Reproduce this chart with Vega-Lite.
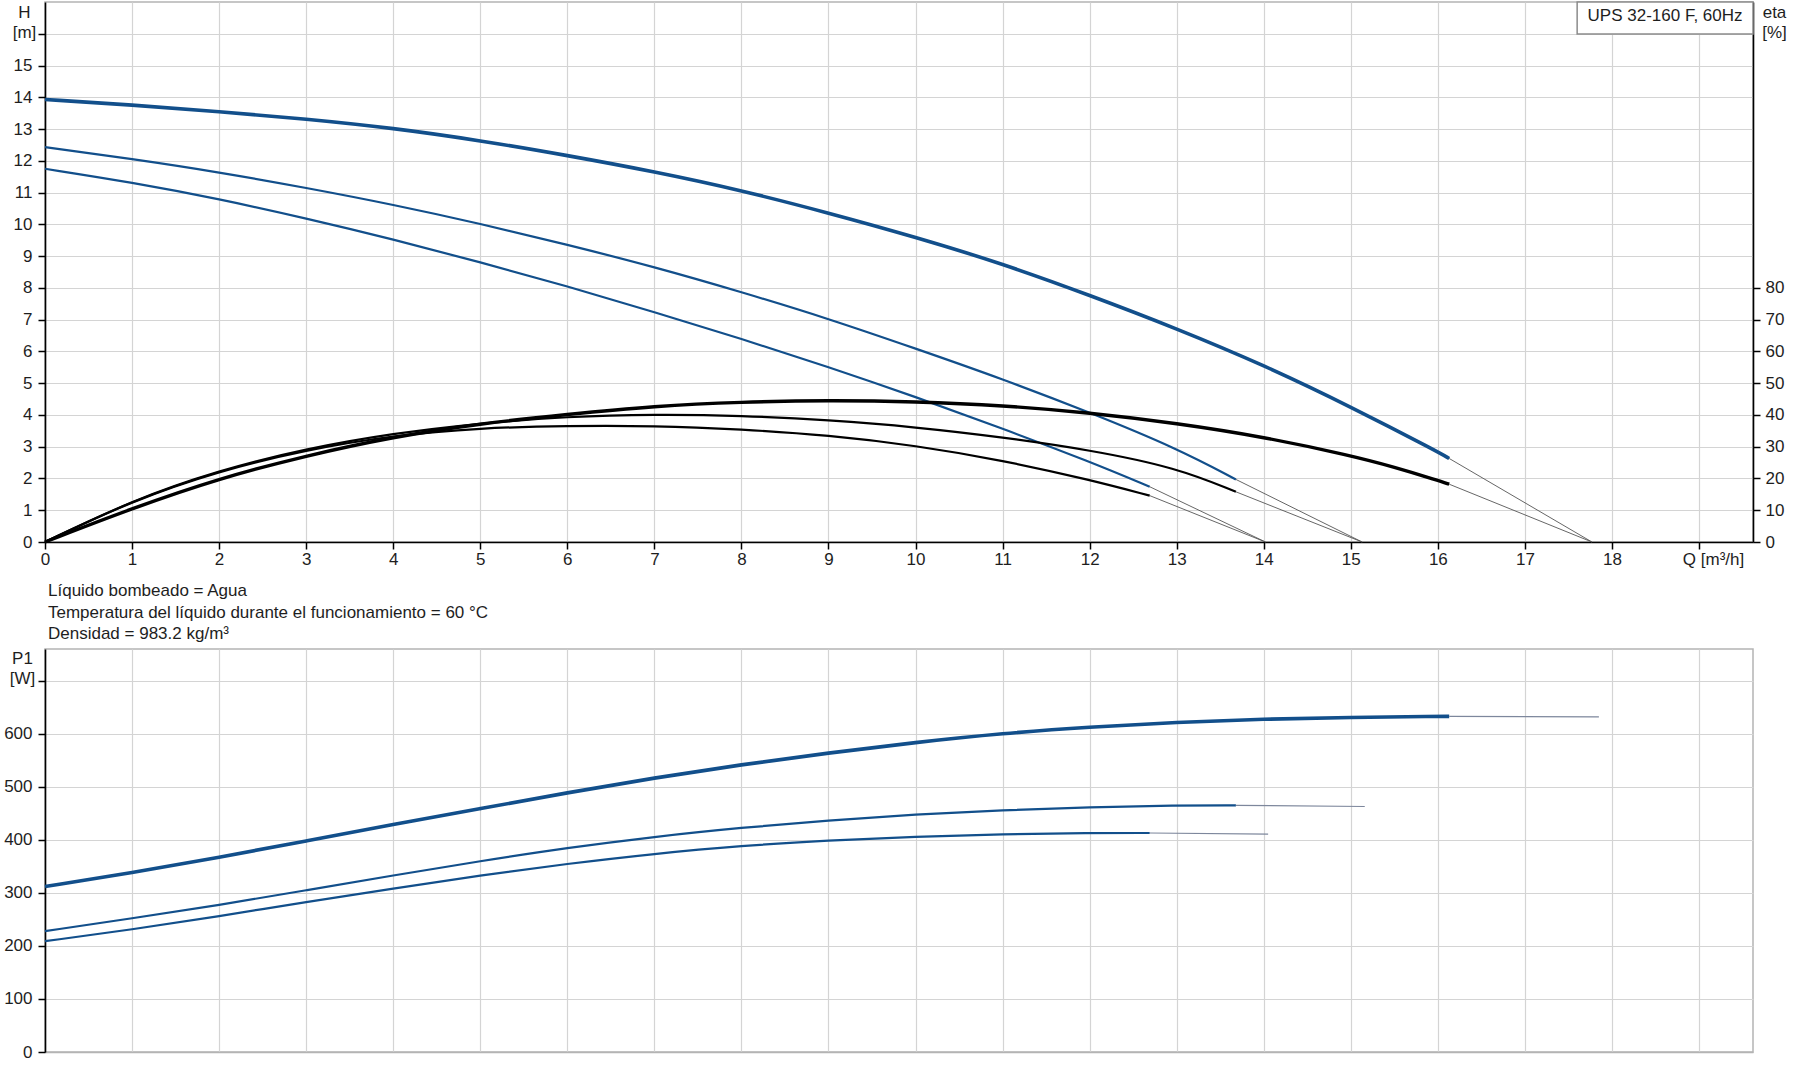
{
  "$schema": "https://vega.github.io/schema/vega-lite/v6.json",
  "background": "white",
  "padding": {"left": 2, "top": 0, "right": 5, "bottom": 5},
  "config": {
    "font": "Liberation Sans",
    "view": {"stroke": "#b4b4b4", "strokeWidth": 1.5},
    "axis": {
      "labelFont": "Liberation Sans",
      "labelFontSize": 17,
      "labelColor": "#1e1e1e",
      "titleFont": "Liberation Sans",
      "titleFontSize": 17,
      "titleFontWeight": "normal",
      "titleColor": "#1e1e1e",
      "gridColor": "#d4d4d4",
      "gridWidth": 1.2,
      "tickColor": "#000000",
      "tickSize": 7,
      "tickWidth": 1.5,
      "domainColor": "#000000",
      "domainWidth": 1.6,
      "labelOverlap": false,
      "labelSeparation": 0
    },
    "axisLeft": {"labelOverlap": false},
    "axisY": {"labelOverlap": false}
  },
  "datasets": {
    "head": [
      {"speed": "3", "Q": 0, "H": 13.93}, {"speed": "3", "Q": 1, "H": 13.76}, {"speed": "3", "Q": 2, "H": 13.55},
      {"speed": "3", "Q": 3, "H": 13.32}, {"speed": "3", "Q": 4, "H": 13.03}, {"speed": "3", "Q": 5, "H": 12.64},
      {"speed": "3", "Q": 6, "H": 12.17}, {"speed": "3", "Q": 7, "H": 11.66}, {"speed": "3", "Q": 8, "H": 11.07},
      {"speed": "3", "Q": 9, "H": 10.36}, {"speed": "3", "Q": 10, "H": 9.6}, {"speed": "3", "Q": 11, "H": 8.76},
      {"speed": "3", "Q": 12, "H": 7.77}, {"speed": "3", "Q": 13, "H": 6.72}, {"speed": "3", "Q": 14, "H": 5.57},
      {"speed": "3", "Q": 15, "H": 4.26}, {"speed": "3", "Q": 16, "H": 2.84}, {"speed": "3", "Q": 16.13, "H": 2.63},
      {"speed": "2", "Q": 0, "H": 12.43}, {"speed": "2", "Q": 1, "H": 12.06}, {"speed": "2", "Q": 2, "H": 11.64},
      {"speed": "2", "Q": 3, "H": 11.15}, {"speed": "2", "Q": 4, "H": 10.62}, {"speed": "2", "Q": 5, "H": 10.02},
      {"speed": "2", "Q": 6, "H": 9.36}, {"speed": "2", "Q": 7, "H": 8.66}, {"speed": "2", "Q": 8, "H": 7.87},
      {"speed": "2", "Q": 9, "H": 7.03}, {"speed": "2", "Q": 10, "H": 6.09}, {"speed": "2", "Q": 11, "H": 5.13},
      {"speed": "2", "Q": 12, "H": 4.08}, {"speed": "2", "Q": 13, "H": 2.95}, {"speed": "2", "Q": 13.68, "H": 1.97},
      {"speed": "1", "Q": 0, "H": 11.75}, {"speed": "1", "Q": 1, "H": 11.32}, {"speed": "1", "Q": 2, "H": 10.8},
      {"speed": "1", "Q": 3, "H": 10.19}, {"speed": "1", "Q": 4, "H": 9.53}, {"speed": "1", "Q": 5, "H": 8.81},
      {"speed": "1", "Q": 6, "H": 8.05}, {"speed": "1", "Q": 7, "H": 7.24}, {"speed": "1", "Q": 8, "H": 6.4},
      {"speed": "1", "Q": 9, "H": 5.51}, {"speed": "1", "Q": 10, "H": 4.57}, {"speed": "1", "Q": 11, "H": 3.57},
      {"speed": "1", "Q": 12, "H": 2.53}, {"speed": "1", "Q": 12.69, "H": 1.74}
    ],
    "headExt": [
      {"speed": "3", "Q": 16.13, "H": 2.63}, {"speed": "3", "Q": 17.77, "H": 0},
      {"speed": "2", "Q": 13.68, "H": 1.97}, {"speed": "2", "Q": 15.13, "H": 0},
      {"speed": "1", "Q": 12.69, "H": 1.74}, {"speed": "1", "Q": 14.02, "H": 0}
    ],
    "eff": [
      {"speed": "3", "Q": 0, "eta": 0}, {"speed": "3", "Q": 1, "eta": 10.6}, {"speed": "3", "Q": 2, "eta": 20},
      {"speed": "3", "Q": 3, "eta": 27.2}, {"speed": "3", "Q": 4, "eta": 33.1}, {"speed": "3", "Q": 5, "eta": 37.3},
      {"speed": "3", "Q": 6, "eta": 40.2}, {"speed": "3", "Q": 7, "eta": 42.8}, {"speed": "3", "Q": 8, "eta": 44.1},
      {"speed": "3", "Q": 9, "eta": 44.6}, {"speed": "3", "Q": 10, "eta": 44.2}, {"speed": "3", "Q": 11, "eta": 43},
      {"speed": "3", "Q": 12, "eta": 40.7}, {"speed": "3", "Q": 13, "eta": 37.4}, {"speed": "3", "Q": 14, "eta": 33.1},
      {"speed": "3", "Q": 15, "eta": 27.2}, {"speed": "3", "Q": 15.5, "eta": 23.6}, {"speed": "3", "Q": 16, "eta": 19.4},
      {"speed": "3", "Q": 16.13, "eta": 18.2},
      {"speed": "2", "Q": 0, "eta": 0}, {"speed": "2", "Q": 1, "eta": 13.1}, {"speed": "2", "Q": 2, "eta": 22.6},
      {"speed": "2", "Q": 3, "eta": 29.4}, {"speed": "2", "Q": 4, "eta": 34.2}, {"speed": "2", "Q": 5, "eta": 37.4},
      {"speed": "2", "Q": 6, "eta": 39.5}, {"speed": "2", "Q": 7, "eta": 40.2}, {"speed": "2", "Q": 8, "eta": 39.8},
      {"speed": "2", "Q": 9, "eta": 38.4}, {"speed": "2", "Q": 10, "eta": 36.2}, {"speed": "2", "Q": 11, "eta": 33},
      {"speed": "2", "Q": 12, "eta": 29}, {"speed": "2", "Q": 13, "eta": 23.4}, {"speed": "2", "Q": 13.68, "eta": 15.8},
      {"speed": "1", "Q": 0, "eta": 0}, {"speed": "1", "Q": 1, "eta": 13}, {"speed": "1", "Q": 2, "eta": 22.4},
      {"speed": "1", "Q": 3, "eta": 29}, {"speed": "1", "Q": 4, "eta": 33.6}, {"speed": "1", "Q": 5, "eta": 35.9},
      {"speed": "1", "Q": 6, "eta": 36.6}, {"speed": "1", "Q": 7, "eta": 36.6}, {"speed": "1", "Q": 8, "eta": 35.5},
      {"speed": "1", "Q": 9, "eta": 33.6}, {"speed": "1", "Q": 10, "eta": 30.4}, {"speed": "1", "Q": 11, "eta": 25.7},
      {"speed": "1", "Q": 12, "eta": 19.6}, {"speed": "1", "Q": 12.69, "eta": 14.6}
    ],
    "effExt": [
      {"speed": "3", "Q": 16.13, "eta": 18.2}, {"speed": "3", "Q": 17.77, "eta": 0},
      {"speed": "2", "Q": 13.68, "eta": 15.8}, {"speed": "2", "Q": 15.13, "eta": 0},
      {"speed": "1", "Q": 12.69, "eta": 14.6}, {"speed": "1", "Q": 14.02, "eta": 0}
    ],
    "power": [
      {"speed": "3", "Q": 0, "P1": 312}, {"speed": "3", "Q": 1, "P1": 338}, {"speed": "3", "Q": 2, "P1": 367},
      {"speed": "3", "Q": 3, "P1": 398}, {"speed": "3", "Q": 4, "P1": 429}, {"speed": "3", "Q": 5, "P1": 459},
      {"speed": "3", "Q": 6, "P1": 489}, {"speed": "3", "Q": 7, "P1": 517}, {"speed": "3", "Q": 8, "P1": 542},
      {"speed": "3", "Q": 9, "P1": 564}, {"speed": "3", "Q": 10, "P1": 584}, {"speed": "3", "Q": 11, "P1": 601},
      {"speed": "3", "Q": 12, "P1": 613}, {"speed": "3", "Q": 13, "P1": 622}, {"speed": "3", "Q": 14, "P1": 628},
      {"speed": "3", "Q": 15, "P1": 631}, {"speed": "3", "Q": 16, "P1": 633}, {"speed": "3", "Q": 16.13, "P1": 633},
      {"speed": "2", "Q": 0, "P1": 228}, {"speed": "2", "Q": 1, "P1": 252}, {"speed": "2", "Q": 2, "P1": 277},
      {"speed": "2", "Q": 3, "P1": 305}, {"speed": "2", "Q": 4, "P1": 333}, {"speed": "2", "Q": 5, "P1": 360},
      {"speed": "2", "Q": 6, "P1": 385}, {"speed": "2", "Q": 7, "P1": 406}, {"speed": "2", "Q": 8, "P1": 423},
      {"speed": "2", "Q": 9, "P1": 437}, {"speed": "2", "Q": 10, "P1": 448}, {"speed": "2", "Q": 11, "P1": 456},
      {"speed": "2", "Q": 12, "P1": 462}, {"speed": "2", "Q": 13, "P1": 465}, {"speed": "2", "Q": 13.68, "P1": 465},
      {"speed": "1", "Q": 0, "P1": 209}, {"speed": "1", "Q": 1, "P1": 231}, {"speed": "1", "Q": 2, "P1": 256},
      {"speed": "1", "Q": 3, "P1": 283}, {"speed": "1", "Q": 4, "P1": 308}, {"speed": "1", "Q": 5, "P1": 333},
      {"speed": "1", "Q": 6, "P1": 355}, {"speed": "1", "Q": 7, "P1": 374}, {"speed": "1", "Q": 8, "P1": 389},
      {"speed": "1", "Q": 9, "P1": 399}, {"speed": "1", "Q": 10, "P1": 406}, {"speed": "1", "Q": 11, "P1": 411},
      {"speed": "1", "Q": 12, "P1": 413}, {"speed": "1", "Q": 12.69, "P1": 413}
    ],
    "powerExt": [
      {"speed": "3", "Q": 16.13, "P1": 633}, {"speed": "3", "Q": 17.85, "P1": 632},
      {"speed": "2", "Q": 13.68, "P1": 465}, {"speed": "2", "Q": 15.16, "P1": 463},
      {"speed": "1", "Q": 12.69, "P1": 413}, {"speed": "1", "Q": 14.05, "P1": 411}
    ],
    "label": [
      {"x1": 17.6, "x2": 19.62, "y1": 15.99, "y2": 17, "xm": 18.61, "ym": 16.57, "text": "UPS 32-160 F, 60Hz"}
    ]
  },
  "spacing": 107,
  "bounds": "flush",
  "vconcat": [
    {
      "width": 1708,
      "height": 540,
      "layer": [
        {
          "layer": [
            {
              "data": {"name": "head"},
              "transform": [{"filter": "datum.speed != '3'"}],
              "mark": {"type": "line", "interpolate": "basis", "color": "#124f8b", "strokeWidth": 2.2},
              "encoding": {
                "x": {
                  "field": "Q", "type": "quantitative",
                  "scale": {"domain": [0, 19.62], "nice": false, "zero": false},
                  "axis": {
                    "values": [0, 1, 2, 3, 4, 5, 6, 7, 8, 9, 10, 11, 12, 13, 14, 15, 16, 17, 18, 19],
                    "format": "d",
                    "labelExpr": "datum.value <= 18 ? datum.label : ''",
                    "labelFlush": false,
                    "labelOverlap": false,
                    "labelPadding": 2,
                    "grid": true,
                    "title": "Q [m³/h]",
                    "titleX": 1668,
                    "titleY": 9,
                    "titleAlign": "center",
                    "titleBaseline": "top"
                  }
                },
                "y": {
                  "field": "H", "type": "quantitative",
                  "scale": {"domain": [0, 17], "nice": false, "zero": false},
                  "axis": {
                    "orient": "left",
                    "values": [0, 1, 2, 3, 4, 5, 6, 7, 8, 9, 10, 11, 12, 13, 14, 15, 16],
                    "labelExpr": "datum.value <= 15 ? format(datum.value, 'd') : ''",
                    "labelOverlap": false,
                    "labelPadding": 6,
                    "grid": true,
                    "title": ["H", "[m]"],
                    "titleAngle": 0,
                    "titleX": -21,
                    "titleY": 15.5,
                    "titleAlign": "center",
                    "titleBaseline": "alphabetic",
                    "titleLineHeight": 20
                  }
                },
                "detail": {"field": "speed", "type": "nominal"}
              }
            },
            {
              "data": {"name": "head"},
              "transform": [{"filter": "datum.speed == '3'"}],
              "mark": {"type": "line", "interpolate": "basis", "color": "#124f8b", "strokeWidth": 3.6},
              "encoding": {
                "x": {"field": "Q", "type": "quantitative"},
                "y": {
                  "field": "H", "type": "quantitative",
                  "axis": {
                    "orient": "left",
                    "values": [0, 1, 2, 3, 4, 5, 6, 7, 8, 9, 10, 11, 12, 13, 14, 15, 16],
                    "labelExpr": "datum.value <= 15 ? format(datum.value, 'd') : ''",
                    "labelOverlap": false,
                    "labelPadding": 6,
                    "grid": true,
                    "title": ["H", "[m]"],
                    "titleAngle": 0,
                    "titleX": -21,
                    "titleY": 15.5,
                    "titleAlign": "center",
                    "titleBaseline": "alphabetic",
                    "titleLineHeight": 20
                  }
                }
              }
            },
            {
              "data": {"name": "headExt"},
              "mark": {"type": "line", "color": "#555555", "strokeWidth": 0.9},
              "encoding": {
                "x": {"field": "Q", "type": "quantitative"},
                "y": {
                  "field": "H", "type": "quantitative",
                  "axis": {
                    "orient": "left",
                    "values": [0, 1, 2, 3, 4, 5, 6, 7, 8, 9, 10, 11, 12, 13, 14, 15, 16],
                    "labelExpr": "datum.value <= 15 ? format(datum.value, 'd') : ''",
                    "labelOverlap": false,
                    "labelPadding": 6,
                    "grid": true,
                    "title": ["H", "[m]"],
                    "titleAngle": 0,
                    "titleX": -21,
                    "titleY": 15.5,
                    "titleAlign": "center",
                    "titleBaseline": "alphabetic",
                    "titleLineHeight": 20
                  }
                },
                "detail": {"field": "speed", "type": "nominal"}
              }
            }
          ]
        },
        {
          "layer": [
            {
              "data": {"name": "eff"},
              "transform": [{"filter": "datum.speed != '3'"}],
              "mark": {"type": "line", "interpolate": "basis", "color": "#000000", "strokeWidth": 2.2},
              "encoding": {
                "x": {"field": "Q", "type": "quantitative"},
                "y": {
                  "field": "eta", "type": "quantitative",
                  "scale": {"domain": [0, 170], "nice": false, "zero": false},
                  "axis": {
                    "orient": "right",
                    "values": [0, 10, 20, 30, 40, 50, 60, 70, 80],
                    "format": "d",
                    "labelOverlap": false,
                    "grid": false,
                    "labelPadding": 5,
                    "title": ["eta", "[%]"],
                    "titleAngle": 0,
                    "titleX": 21,
                    "titleY": 15.5,
                    "titleAlign": "center",
                    "titleBaseline": "alphabetic",
                    "titleLineHeight": 20
                  }
                },
                "detail": {"field": "speed", "type": "nominal"}
              }
            },
            {
              "data": {"name": "eff"},
              "transform": [{"filter": "datum.speed == '3'"}],
              "mark": {"type": "line", "interpolate": "basis", "color": "#000000", "strokeWidth": 3.4},
              "encoding": {
                "x": {"field": "Q", "type": "quantitative"},
                "y": {"field": "eta", "type": "quantitative"}
              }
            },
            {
              "data": {"name": "effExt"},
              "mark": {"type": "line", "color": "#555555", "strokeWidth": 0.9},
              "encoding": {
                "x": {"field": "Q", "type": "quantitative"},
                "y": {"field": "eta", "type": "quantitative"},
                "detail": {"field": "speed", "type": "nominal"}
              }
            }
          ]
        },
        {
          "layer": [
            {
              "data": {"name": "label"},
              "mark": {"type": "rect", "fill": "white", "stroke": "#8c8c8c", "strokeWidth": 1.5},
              "encoding": {
                "x": {"field": "x1", "type": "quantitative"},
                "x2": {"field": "x2"},
                "y": {"field": "y1", "type": "quantitative", "scale": {"domain": [0, 17], "nice": false, "zero": false}, "axis": null},
                "y2": {"field": "y2"}
              }
            },
            {
              "data": {"name": "label"},
              "mark": {"type": "text", "fontSize": 17, "font": "Liberation Sans", "color": "#1e1e1e", "align": "center", "baseline": "middle"},
              "encoding": {
                "x": {"field": "xm", "type": "quantitative"},
                "y": {"field": "ym", "type": "quantitative", "axis": null},
                "text": {"field": "text"}
              }
            }
          ]
        }
      ],
      "resolve": {"scale": {"y": "independent"}, "axis": {"y": "independent"}}
    },
    {
      "width": 1708,
      "height": 403,
      "title": {
        "text": ["Líquido bombeado = Agua", "Temperatura del líquido durante el funcionamiento = 60 °C", "Densidad = 983.2 kg/m³"],
        "anchor": "start",
        "frame": "group",
        "font": "Liberation Sans",
        "fontSize": 17,
        "fontWeight": "normal",
        "color": "#1e1e1e",
        "lineHeight": 21.5,
        "offset": 6,
        "dx": 3
      },
      "layer": [
        {
          "data": {"name": "power"},
          "transform": [{"filter": "datum.speed != '3'"}],
          "mark": {"type": "line", "interpolate": "basis", "color": "#124f8b", "strokeWidth": 2.2},
          "encoding": {
            "x": {
              "field": "Q", "type": "quantitative",
              "scale": {"domain": [0, 19.62], "nice": false, "zero": false},
              "axis": {
                "values": [0, 1, 2, 3, 4, 5, 6, 7, 8, 9, 10, 11, 12, 13, 14, 15, 16, 17, 18, 19],
                "labels": false,
                "ticks": false,
                "domainColor": "#b4b4b4",
                "domainWidth": 1.5,
                "grid": true,
                "title": null
              }
            },
            "y": {
              "field": "P1", "type": "quantitative",
              "scale": {"domain": [0, 760], "nice": false, "zero": false},
              "axis": {
                "values": [0, 100, 200, 300, 400, 500, 600, 700],
                "format": "d",
                "labelExpr": "datum.value <= 600 ? datum.label : ''",
                "labelOverlap": false,
                "labelPadding": 6,
                "grid": true,
                "title": ["P1", "[W]"],
                "titleAngle": 0,
                "titleX": -23,
                "titleY": 14,
                "titleAlign": "center",
                "titleBaseline": "alphabetic",
                "titleLineHeight": 20
              }
            },
            "detail": {"field": "speed", "type": "nominal"}
          }
        },
        {
          "data": {"name": "power"},
          "transform": [{"filter": "datum.speed == '3'"}],
          "mark": {"type": "line", "interpolate": "basis", "color": "#124f8b", "strokeWidth": 3.6},
          "encoding": {
            "x": {"field": "Q", "type": "quantitative"},
            "y": {"field": "P1", "type": "quantitative"}
          }
        },
        {
          "data": {"name": "powerExt"},
          "mark": {"type": "line", "color": "#7d879c", "strokeWidth": 1.2},
          "encoding": {
            "x": {"field": "Q", "type": "quantitative"},
            "y": {"field": "P1", "type": "quantitative"},
            "detail": {"field": "speed", "type": "nominal"}
          }
        }
      ]
    }
  ]
}
